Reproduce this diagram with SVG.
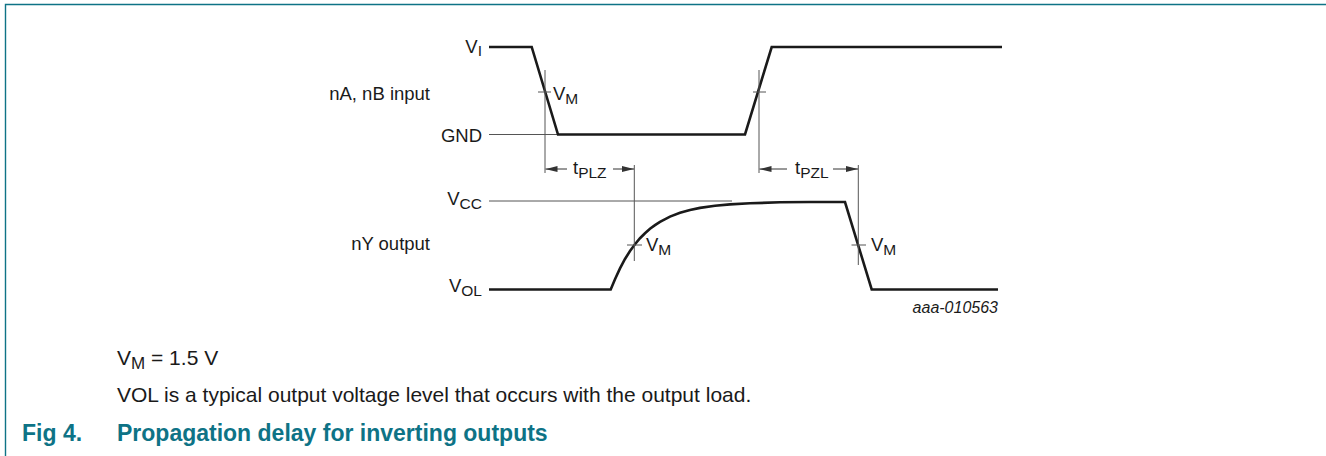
<svg xmlns="http://www.w3.org/2000/svg" width="1326" height="456" viewBox="0 0 1326 456">
<defs>
<style>
text{font-family:"Liberation Sans",Arial,Helvetica,sans-serif;fill:#1a1a1a}
.lbl{font-size:18.5px}
.sub{font-size:15.5px}
.note{font-size:21px}
.nsub{font-size:17px}
.cap{font-size:23px;font-weight:bold;fill:#0e7386}
.id{font-size:16px;font-style:italic}
.wave{fill:none;stroke:#1a1a1a;stroke-width:2.6;stroke-linejoin:miter}
.thin{fill:none;stroke:#555;stroke-width:1}
.arr{fill:none;stroke:#333;stroke-width:1}
.frame{fill:none;stroke:#0e7386;stroke-width:1.4}
</style>
<marker id="ah" viewBox="0 0 12 6" refX="12" refY="3" markerWidth="12" markerHeight="6" markerUnits="userSpaceOnUse" orient="auto">
<path d="M0,0 L12,3 L0,6 Z" fill="#333"/>
</marker>
</defs>
<rect width="1326" height="456" fill="#fff"/>
<path class="frame" d="M5.5,456 V4.5 H1326"/>

<g id="labels">
<text class="lbl" x="482" y="53" text-anchor="end">V<tspan class="sub" dy="3">I</tspan></text>
<text class="lbl" x="430" y="99.5" text-anchor="end">nA, nB input</text>
<text class="lbl" x="482" y="141.5" text-anchor="end">GND</text>
<text class="lbl" x="482" y="205" text-anchor="end">V<tspan class="sub" dy="4">CC</tspan></text>
<text class="lbl" x="430" y="250" text-anchor="end">nY output</text>
<text class="lbl" x="482" y="292" text-anchor="end">V<tspan class="sub" dy="4">OL</tspan></text>
</g>

<g id="input-waveform">
<path class="thin" d="M489,134.5 H557"/>
<path class="wave" d="M489,47 H531.7 L558,134.5 H745 L771.7,47 H1002"/>
</g>

<g id="output-waveform">
<path class="thin" d="M489,201 H732"/>
<path class="wave" d="M489,289.5 H610.7 L613,284 L615,279.3 L620,268.4 L625,259 L630,251 L635,244.2 L640,238.2 L645,233.3 L650,228.8 L655,225.1 L660,221.8 L670,216.6 L680,212.8 L690,210 L700,207.9 L715,205.7 L730,204.4 L750,203.3 L780,202.3 L810,202 H845 L871.7,289.5 H998"/>
</g>

<g id="measure-marks">
<path class="thin" d="M545,70 V173 M538,92 H551"/>
<text class="lbl" x="553" y="100">V<tspan class="sub" dy="4">M</tspan></text>
<path class="thin" d="M759,70 V173 M753,92 H766"/>
<path class="thin" d="M634.3,165 V261 M627,245 H642"/>
<text class="lbl" x="646" y="251">V<tspan class="sub" dy="4">M</tspan></text>
<path class="thin" d="M858.3,165 V265 M851.5,245 H866"/>
<text class="lbl" x="871" y="251">V<tspan class="sub" dy="4">M</tspan></text>
</g>

<g id="connectors">
<path class="arr" d="M567,169 H545.5" marker-end="url(#ah)"/>
<path class="arr" d="M613,169 H634" marker-end="url(#ah)"/>
<path class="arr" d="M787,169 H759.5" marker-end="url(#ah)"/>
<path class="arr" d="M833,169 H858" marker-end="url(#ah)"/>
</g>

<g id="timing-labels">
<text class="lbl" x="573" y="174">t<tspan class="sub" dy="4">PLZ</tspan></text>
<text class="lbl" x="795" y="174">t<tspan class="sub" dy="4">PZL</tspan></text>
<text class="id" x="998" y="313" text-anchor="end">aaa-010563</text>
</g>

<g id="notes">
<text class="note" x="117" y="364.5">V<tspan class="nsub" dy="4">M</tspan><tspan dy="-4"> = 1.5 V</tspan></text>
<text class="note" x="117" y="402">VOL is a typical output voltage level that occurs with the output load.</text>
<text class="cap" x="22" y="441">Fig 4.</text>
<text class="cap" x="117" y="441">Propagation delay for inverting outputs</text>
</g>
</svg>
